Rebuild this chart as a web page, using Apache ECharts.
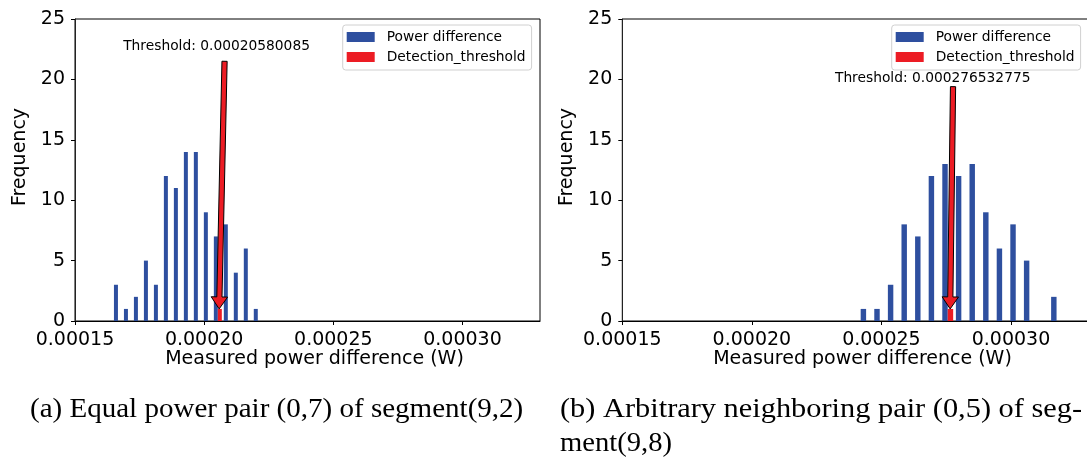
<!DOCTYPE html>
<html><head><meta charset="utf-8">
<script src="https://cdn.jsdelivr.net/npm/echarts@6/dist/echarts.min.js"></script>
<style>html,body{margin:0;padding:0;background:#fff}#c{width:1087px;height:458px}</style>
</head><body><div id="c"></div>
<script>
// ---- data ----
const xTickValues = [0.00015, 0.00020, 0.00025, 0.00030];
const yTickValues = [0, 5, 10, 15, 20, 25];
const seriesNames = ['Power difference', 'Detection_threshold'];

const leftBinEdges = [0.00016469, 0.00016856, 0.00017242, 0.00017629, 0.00018016, 0.00018402,
  0.00018789, 0.00019176, 0.00019562, 0.00019949, 0.00020336, 0.00020722, 0.00021109,
  0.00021496, 0.00021882, 0.00022269];
const leftCounts = [3, 1, 2, 5, 3, 12, 11, 14, 14, 9, 7, 8, 4, 6, 1];
const leftThresholdCounts = [0, 0, 0, 0, 0, 0, 0, 0, 0, 0, 1, 0, 0, 0, 0];
const leftThreshold = 0.00020580085;
const leftArrowStart = [0.00020789, 21.5];
const leftLabelPos = [0.0002048, 22.7];

const rightBinEdges = [0.00024147, 0.00024672, 0.00025197, 0.00025722, 0.00026247, 0.00026772,
  0.00027297, 0.00027822, 0.00028347, 0.00028872, 0.00029397, 0.00029922, 0.00030447,
  0.00030972, 0.00031497, 0.00032022];
const rightCounts = [1, 1, 3, 8, 7, 12, 13, 12, 13, 9, 6, 8, 5, 0, 2];
const rightThresholdCounts = [0, 0, 0, 0, 0, 0, 1, 0, 0, 0, 0, 0, 0, 0, 0];
const rightThreshold = 0.000276532775;
const rightArrowStart = [0.00027764, 19.4];
const rightLabelPos = [0.0002698, 20.1];

const captions = [
  '(a) Equal power pair (0,7) of segment(9,2)',
  '(b) Arbitrary neighboring pair (0,5) of seg-',
  'ment(9,8)'
];

// ---- styling ----
const BLUE = '#2e4f9f', RED = '#ec1c24';
const SANS = '"DejaVu Sans", sans-serif';
const SERIF = '"Liberation Serif", serif';

function histData(edges, counts) {
  return counts.map((c, i) => [edges[i], edges[i + 1], c]);
}
function histRender(slot, color) {
  return function (params, api) {
    const lo = api.value(0), hi = api.value(1), n = api.value(2);
    if (!n) return;
    const w = hi - lo;
    const x0 = lo + (0.1 + 0.4 * slot) * w, x1 = x0 + 0.4 * w;
    const p0 = api.coord([x0, n]), p1 = api.coord([x1, 0]);
    return { type: 'rect', shape: { x: p0[0], y: p0[1], width: p1[0] - p0[0], height: p1[1] - p0[1] },
      style: { fill: color } };
  };
}
function arrowRender(params, api) {
  const s = api.coord([api.value(0), api.value(1)]);
  const e = api.coord([api.value(2), api.value(3)]);
  const dx = e[0] - s[0], dy = e[1] - s[1], L = Math.hypot(dx, dy);
  const ux = dx / L, uy = dy / L, nx = -uy, ny = ux;
  const hw = 2.6, hh = 8.2, hl = 12;
  const kx = e[0] - ux * hl, ky = e[1] - uy * hl;
  const pts = [
    [s[0] + nx * hw, s[1] + ny * hw], [kx + nx * hw, ky + ny * hw], [kx + nx * hh, ky + ny * hh],
    [e[0], e[1]], [kx - nx * hh, ky - ny * hh], [kx - nx * hw, ky - ny * hw], [s[0] - nx * hw, s[1] - ny * hw]
  ];
  return { type: 'polygon', shape: { points: pts }, style: { fill: RED, stroke: '#000', lineWidth: 1 }, z2: 10 };
}
function labelRender(text) {
  return function (params, api) {
    const p = api.coord([api.value(0), api.value(1)]);
    return { type: 'text', x: p[0], y: p[1],
      style: { text: text, fill: '#000', fontFamily: SANS, fontSize: 13.8, align: 'center', verticalAlign: 'middle' } };
  };
}

function xAxisDef(gi) {
  return { type: 'value', gridIndex: gi, min: 0.00015, max: 0.00033, interval: 0.00005,
    name: 'Measured power difference (W)', nameLocation: 'middle', nameGap: 27, nameMoveOverlap: false,
    nameTextStyle: { fontFamily: SANS, fontSize: 19, color: '#000', lineHeight: 22, padding: [0, 0, 0, 14] },
    axisLine: { show: true, lineStyle: { color: '#000', width: 1 } },
    axisTick: { show: true, inside: false, length: 4, lineStyle: { color: '#000', width: 1 } },
    axisLabel: { show: true, margin: 9, fontFamily: SANS, fontSize: 19, color: '#000', lineHeight: 20,
      showMaxLabel: false, formatter: v => xTickValues.some(t => Math.abs(t - v) < 1e-9) ? v.toFixed(5) : '' },
    splitLine: { show: false } };
}
function yAxisDef(gi) {
  return { type: 'value', gridIndex: gi, min: 0, max: 25, interval: 5,
    name: 'Frequency', nameLocation: 'middle', nameRotate: 90, nameGap: 44, nameMoveOverlap: false,
    nameTextStyle: { fontFamily: SANS, fontSize: 19, color: '#000', lineHeight: 22, padding: [0, 0, 0, 26] },
    axisLine: { show: true, lineStyle: { color: '#222', width: 1 } },
    axisTick: { show: true, inside: false, length: 4, lineStyle: { color: '#000', width: 1 } },
    axisLabel: { show: true, margin: 10, fontFamily: SANS, fontSize: 19, color: '#000',
      formatter: v => yTickValues.includes(v) ? String(v) : '' },
    splitLine: { show: false } };
}
function legendDef(left) {
  return { left: left, top: 25, orient: 'vertical', icon: 'rect', itemWidth: 28, itemHeight: 10, itemGap: 4,
    padding: [4, 6, 5, 4], borderColor: '#d0d0d0', borderWidth: 1, borderRadius: 3,
    backgroundColor: 'rgba(255,255,255,0.8)', selectedMode: false,
    textStyle: { fontFamily: SANS, fontSize: 13.8, color: '#000', lineHeight: 16, padding: [0, 0, 0, 7] },
    data: [{ name: seriesNames[0], itemStyle: { color: BLUE } }, { name: seriesNames[1], itemStyle: { color: RED } }] };
}
function panelSeries(gi, edges, counts, tcounts, threshold, arrowStart, labelPos) {
  return [
    { type: 'custom', name: seriesNames[0], xAxisIndex: gi, yAxisIndex: gi, itemStyle: { color: BLUE },
      renderItem: histRender(0, BLUE), encode: { x: [0, 1], y: 2 }, data: histData(edges, counts), silent: true },
    { type: 'custom', name: seriesNames[1], xAxisIndex: gi, yAxisIndex: gi, itemStyle: { color: RED },
      renderItem: histRender(1, RED), encode: { x: [0, 1], y: 2 }, data: histData(edges, tcounts), silent: true },
    { type: 'custom', xAxisIndex: gi, yAxisIndex: gi, renderItem: arrowRender, z: 5, silent: true,
      encode: { x: [0, 2], y: [1, 3] }, data: [[arrowStart[0], arrowStart[1], threshold, 1]] },
    { type: 'custom', xAxisIndex: gi, yAxisIndex: gi, renderItem: labelRender('Threshold: ' + threshold), z: 6, silent: true,
      encode: { x: 0, y: 1 }, data: [labelPos] }
  ];
}

const chart = echarts.init(document.getElementById('c'), null, { renderer: 'canvas' });
chart.setOption({
  animation: false,
  backgroundColor: '#fff',
  grid: [
    { left: 75, top: 19, width: 465, height: 302, show: true, borderColor: '#000', borderWidth: 1, outerBoundsMode: 'none', containLabel: false },
    { left: 622.3, top: 19, width: 466.4, height: 302, show: true, borderColor: '#000', borderWidth: 1, outerBoundsMode: 'none', containLabel: false }
  ],
  xAxis: [xAxisDef(0), xAxisDef(1)],
  yAxis: [yAxisDef(0), yAxisDef(1)],
  legend: [legendDef(342.7), legendDef(891.7)],
  series: [].concat(
    panelSeries(0, leftBinEdges, leftCounts, leftThresholdCounts, leftThreshold, leftArrowStart, leftLabelPos),
    panelSeries(1, rightBinEdges, rightCounts, rightThresholdCounts, rightThreshold, rightArrowStart, rightLabelPos)
  ),
  graphic: [
    { type: 'text', x: 30, y: 410, scaleX: 1.075, silent: true,
      style: { text: captions[0], fill: '#000', fontFamily: SERIF, fontSize: 27, align: 'left', verticalAlign: 'middle' } },
    { type: 'text', x: 560, y: 410, scaleX: 1.125, silent: true,
      style: { text: captions[1], fill: '#000', fontFamily: SERIF, fontSize: 27, align: 'left', verticalAlign: 'middle' } },
    { type: 'text', x: 560, y: 444, scaleX: 1.06, silent: true,
      style: { text: captions[2], fill: '#000', fontFamily: SERIF, fontSize: 27, align: 'left', verticalAlign: 'middle' } }
  ]
});
</script></body></html>
